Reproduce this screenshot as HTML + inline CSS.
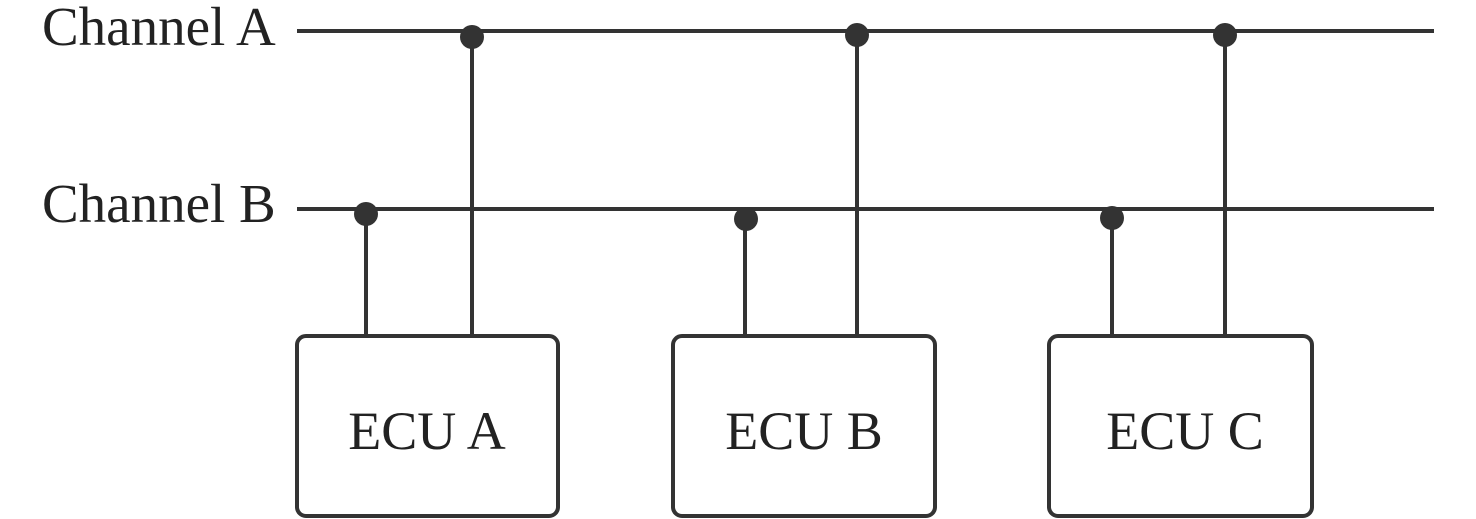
<!DOCTYPE html>
<html><head><style>body{margin:0;background:#fff}svg{display:block}</style></head><body>
<svg width="1476" height="519" viewBox="0 0 1476 519" xmlns="http://www.w3.org/2000/svg">
<g font-family="Liberation Serif, serif" font-size="55" fill="#222">
<text x="42" y="45">Channel A</text>
<text x="42" y="222">Channel B</text>
</g>
<g stroke="#333" stroke-width="4" fill="none">
<line x1="297" y1="31" x2="1434" y2="31"/>
<line x1="297" y1="209" x2="1434" y2="209"/>
<line x1="472" y1="38" x2="472" y2="336"/>
<line x1="857" y1="36" x2="857" y2="336"/>
<line x1="1225" y1="36" x2="1225" y2="336"/>
<line x1="366" y1="215" x2="366" y2="336"/>
<line x1="745" y1="220" x2="745" y2="336"/>
<line x1="1112" y1="219" x2="1112" y2="336"/>
<rect x="297" y="336" width="261" height="180" rx="9"/>
<rect x="673" y="336" width="262" height="180" rx="9"/>
<rect x="1049" y="336" width="263" height="180" rx="9"/>
</g>
<g fill="#333">
<circle cx="472" cy="37" r="12"/>
<circle cx="857" cy="35" r="12"/>
<circle cx="1225" cy="35" r="12"/>
<circle cx="366" cy="214" r="12"/>
<circle cx="746" cy="219" r="12"/>
<circle cx="1112" cy="218" r="12"/>
</g>
<g font-family="Liberation Serif, serif" font-size="54" fill="#222" text-anchor="middle">
<text x="427" y="449">ECU A</text>
<text x="804" y="449">ECU B</text>
<text x="1185" y="449">ECU C</text>
</g>
</svg>
</body></html>
